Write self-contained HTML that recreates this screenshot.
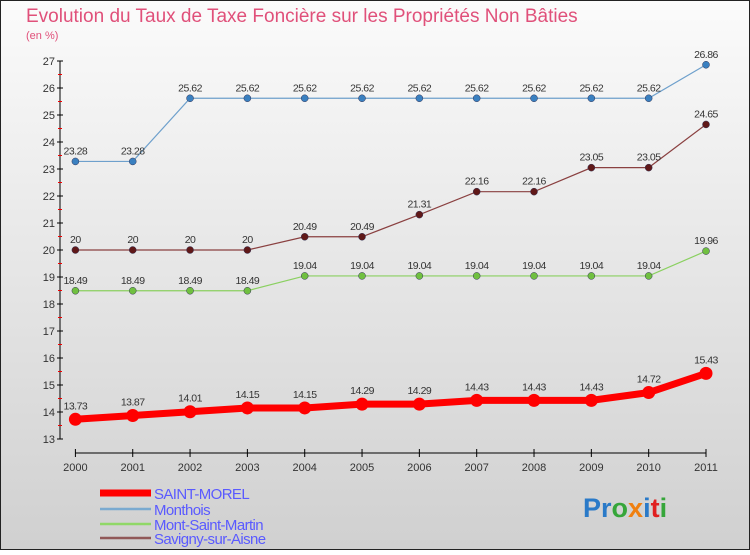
<!DOCTYPE html>
<html><head><meta charset="utf-8"><style>
body{margin:0}
svg text{font-family:"Liberation Sans",sans-serif}
</style></head><body>
<svg width="750" height="550" xmlns="http://www.w3.org/2000/svg">
<defs><linearGradient id="bg" x1="0" y1="0" x2="0" y2="1"><stop offset="0" stop-color="#fbfbfb"/><stop offset="1" stop-color="#d0d0d0"/></linearGradient></defs>
<rect x="0.5" y="0.5" width="749" height="549" fill="url(#bg)" stroke="#222"/>
<text x="26" y="22" font-size="19" fill="#e0507a">Evolution du Taux de Taxe Foncière sur les Propriétés Non Bâties</text>
<text x="26" y="39" font-size="11" fill="#e0507a">(en %)</text>
<g id="axes"></g><g id="series"></g><g id="legend"></g>
<text x="583" y="517" font-size="27" font-weight="bold"><tspan fill="#2a7ac8">Pr</tspan><tspan fill="#36a63a">o</tspan><tspan fill="#f08010">x</tspan><tspan fill="#2a7ac8">i</tspan><tspan fill="#e02020">t</tspan><tspan fill="#36a63a">i</tspan></text>
</svg>
<script>
const years=[2000,2001,2002,2003,2004,2005,2006,2007,2008,2009,2010,2011];
const saintMorel=[13.73,13.87,14.01,14.15,14.15,14.29,14.29,14.43,14.43,14.43,14.72,15.43];
const monthois=[23.28,23.28,25.62,25.62,25.62,25.62,25.62,25.62,25.62,25.62,25.62,26.86];
const montSaintMartin=[18.49,18.49,18.49,18.49,19.04,19.04,19.04,19.04,19.04,19.04,19.04,19.96];
const savigny=[20,20,20,20,20.49,20.49,21.31,22.16,22.16,23.05,23.05,24.65];
const yTicks=[13,14,15,16,17,18,19,20,21,22,23,24,25,26,27];
const NS="http://www.w3.org/2000/svg";
const X=i=>75.4+i*(706-75.4)/11;
const Y=v=>439-(v-13)*(439-61)/14;
function mk(t,a,p){const e=document.createElementNS(NS,t);for(const k in a)e.setAttribute(k,a[k]);p.appendChild(e);return e;}
const ax=document.getElementById('axes');
let l=mk('line',{x1:60,y1:Y(13),x2:60,y2:Y(27),stroke:'#000'},ax);


yTicks.forEach(v=>{
 mk('line',{x1:57,y1:Y(v),x2:63,y2:Y(v),stroke:'#000'},ax);
 if(v<27)mk('line',{x1:58,y1:Y(v+0.5),x2:62,y2:Y(v+0.5),stroke:'#e00'},ax);
 const t=mk('text',{x:55,y:Y(v)+4,'font-size':11,'text-anchor':'end',fill:'#333'},ax);t.textContent=v;
 
 
});
l=mk('line',{x1:X(0),y1:453,x2:X(11),y2:453,stroke:'#000'},ax);


years.forEach((y,i)=>{
 mk('line',{x1:X(i),y1:449,x2:X(i),y2:457,stroke:'#000'},ax);
 const t=mk('text',{x:X(i),y:471,'font-size':11,'text-anchor':'middle',fill:'#333'},ax);t.textContent=y;
 
 
});
const S=document.getElementById('series');
const series=[
 {d:monthois,c:'#6ea0cc',m:'#3a80c0',w:1.2,r:3.5,n:'monthois'},
 {d:savigny,c:'#8a4040',m:'#601818',w:1.2,r:3.5,n:'savigny-sur-aisne'},
 {d:montSaintMartin,c:'#8ad060',m:'#70c040',w:1.2,r:3.5,n:'mont-saint-martin'},
 {d:saintMorel,c:'#f00',m:'#f00',w:7,r:6.5,n:'saint-morel'}];
series.forEach(s=>{
 const g=mk('g',{},S);
 
 
 const p=mk('polyline',{points:s.d.map((v,i)=>X(i)+','+Y(v)).join(' '),fill:'none',stroke:s.c,'stroke-width':s.w},g);
 
 
 s.d.forEach((v,i)=>{
  const c=mk('circle',{cx:X(i),cy:Y(v),r:s.r,fill:s.m,stroke:s.w>2?'none':'#335','stroke-width':0.5},g);
  
  
  const t=mk('text',{x:X(i),y:Y(v)-(s.w>2?10:7),'font-size':10.5,'text-anchor':'middle',fill:'#333','letter-spacing':'-0.5'},g);
  t.textContent=v;
  
  
 });
});
const L=document.getElementById('legend');
const leg=[['SAINT-MOREL','#f00',7,493],['Monthois','#7aaad0',2.5,509],['Mont-Saint-Martin','#90d868',2.5,524],['Savigny-sur-Aisne','#905858',2.5,538]];
leg.forEach(e=>{
 const g=mk('g',{},L);
 
 
 mk('line',{x1:100,y1:e[3],x2:151,y2:e[3],stroke:e[1],'stroke-width':e[2]},g);
 const t=mk('text',{x:154,y:e[3]+6,'font-size':15,fill:'#5a5aff','letter-spacing':'-0.6'},g);t.textContent=e[0];
});
</script>
</body></html>
